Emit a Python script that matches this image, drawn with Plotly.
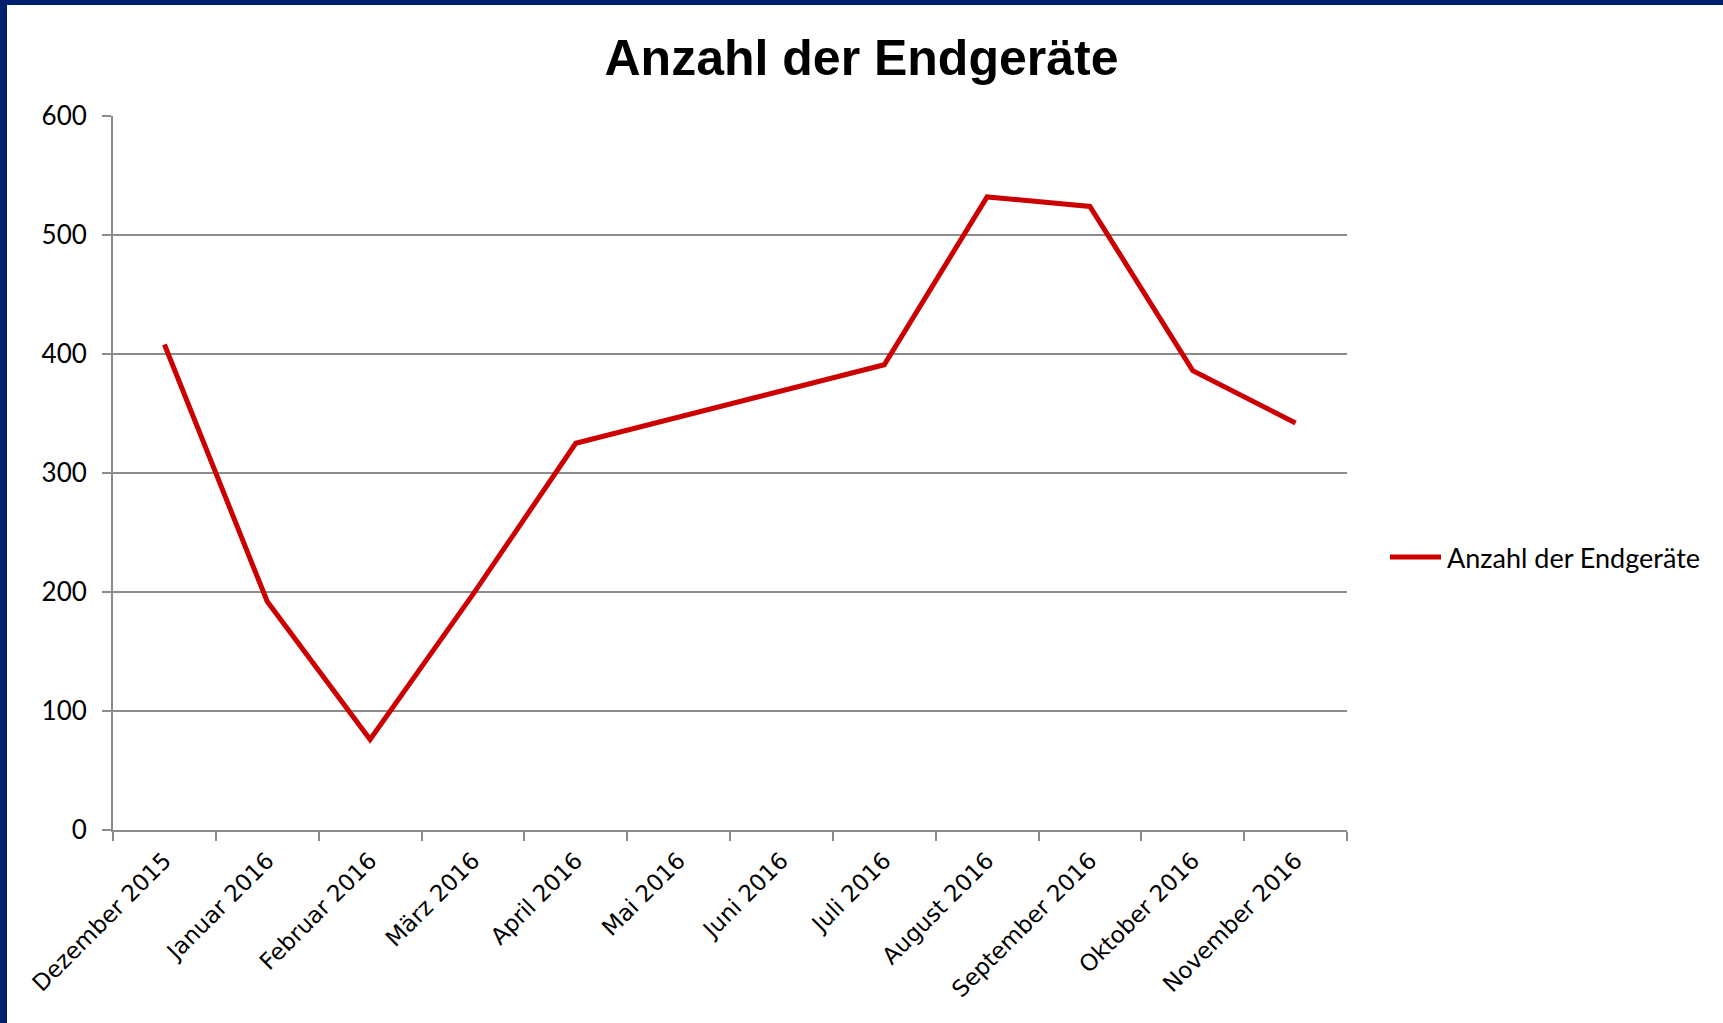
import plotly.graph_objects as go

months = ["Dezember 2015", "Januar 2016", "Februar 2016", "März 2016", "April 2016",
          "Mai 2016", "Juni 2016", "Juli 2016", "August 2016", "September 2016",
          "Oktober 2016", "November 2016"]
endgeraete = [408, 192, 76, 198, 325, 347, 369, 391, 532, 524, 386, 342]
y_ticks = [0, 100, 200, 300, 400, 500, 600]
series_name = "Anzahl der Endgeräte"
title_text = "Anzahl der Endgeräte"

W, H = 1723, 1023
L, R, T, B = 113, 376, 116, 193
pw, ph = W - L - R, H - T - B
red = "#CC0000"
grid = "#8C8C8C"
navy = "#001F6E"

fig = go.Figure()
fig.add_trace(go.Scatter(
    x=months, y=endgeraete, mode="lines", name=series_name,
    line=dict(color=red, width=5), showlegend=False,
))

# legend drawn as a sample line + text
leg_y = 1 - (557 - T) / ph
fig.add_shape(type="line", xref="paper", yref="paper",
              x0=(1390 - L) / pw, x1=(1441 - L) / pw, y0=leg_y, y1=leg_y,
              line=dict(color=red, width=5))
fig.add_annotation(text=series_name, xref="paper", yref="paper",
                   x=(1445 - L) / pw, y=leg_y, xanchor="left", yanchor="middle",
                   showarrow=False, font=dict(family="Lato", size=27, color="black"))

# frame bands (left and top)
fig.add_shape(type="rect", xref="paper", yref="paper",
              x0=-L / pw, x1=(7 - L) / pw, y0=-B / ph, y1=1 + T / ph,
              fillcolor=navy, line=dict(width=0), layer="above")
fig.add_shape(type="rect", xref="paper", yref="paper",
              x0=-L / pw, x1=1 + R / pw, y0=1 + (T - 5) / ph, y1=1 + T / ph,
              fillcolor=navy, line=dict(width=0), layer="above")

fig.update_layout(
    width=W, height=H,
    margin=dict(l=L, r=R, t=T, b=B, pad=0),
    paper_bgcolor="white", plot_bgcolor="white",
    title=dict(text="<b>" + title_text + "</b>", x=0.5, xref="container", xanchor="center",
               y=1 - 57 / H, yref="container", yanchor="middle",
               font=dict(family="Liberation Sans", size=50, color="black")),
    showlegend=False,
    xaxis=dict(type="category", tickson="boundaries", ticks="outside", ticklen=9,
               tickwidth=2, tickcolor=grid, showline=True, linecolor=grid, linewidth=2,
               showgrid=False, tickangle=-45, ticklabelstandoff=6,
               tickfont=dict(family="DejaVu Sans", size=23, color="black"),
               range=[-0.5, len(months) - 0.5]),
    yaxis=dict(range=[0, 600], tickvals=y_ticks, ticks="outside", ticklen=9, tickwidth=2,
               tickcolor=grid, showline=True, linecolor=grid, linewidth=2,
               showgrid=True, gridcolor=grid, gridwidth=2, zeroline=False,
               ticklabelstandoff=10,
               tickfont=dict(family="Lato", size=26, color="black")),
)

fig.write_html("out.html", config={"displayModeBar": False},
               post_script="document.body.style.margin='0';document.body.style.overflow='hidden';")
